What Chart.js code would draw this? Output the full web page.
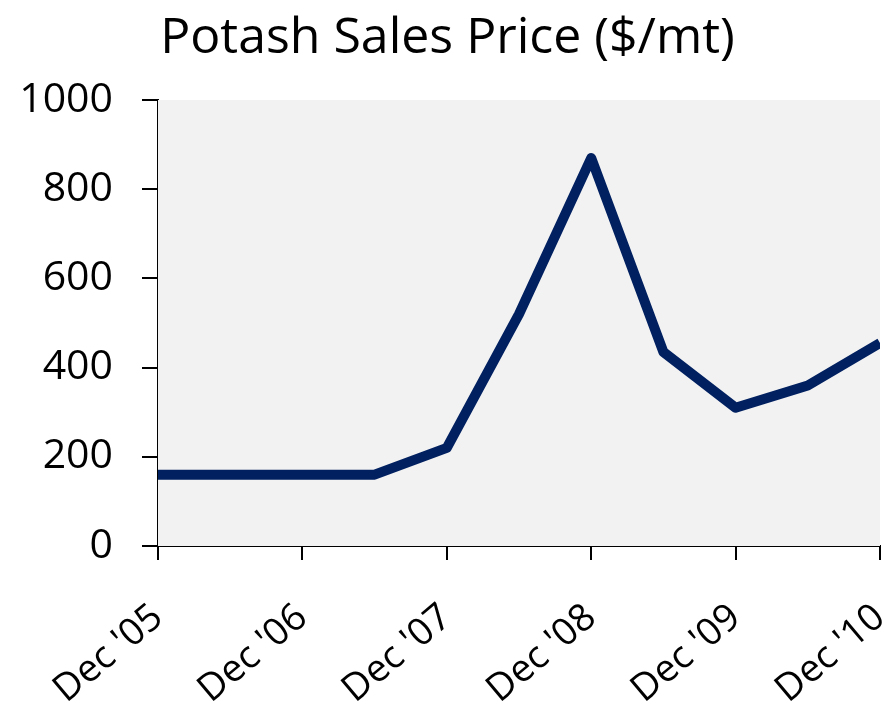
<!DOCTYPE html>
<html>
<head>
<meta charset="utf-8">
<script src="https://cdn.jsdelivr.net/npm/chart.js@4"></script>
<style>
  html, body { margin: 0; padding: 0; background: #fff; }
  #wrap { width: 895px; height: 706px; }
</style>
</head>
<body>
<div id="wrap"><canvas id="potashChart"></canvas></div>
<script>
// Half-year periods, Dec '05 .. Dec '10
const periods = ["Dec '05", "Jun '06", "Dec '06", "Jun '07", "Dec '07", "Jun '08",
                 "Dec '08", "Jun '09", "Dec '09", "Jun '10", "Dec '10"];
const prices  = [160, 160, 160, 160, 220, 520, 870, 435, 310, 360, 455];
const tickLabels = ["Dec '05", "Dec '06", "Dec '07", "Dec '08", "Dec '09", "Dec '10"];

const FONT = '"Open Sans", Lato, sans-serif';

// grey fill behind the plot area only
const plotBg = {
  id: 'plotBg',
  beforeDatasetsDraw(chart) {
    const { ctx, chartArea: a } = chart;
    ctx.save();
    ctx.fillStyle = '#f2f2f2';
    ctx.fillRect(a.left, a.top, a.right - a.left, a.bottom - a.top);
    ctx.restore();
  }
};

new Chart(document.getElementById('potashChart'), {
  type: 'line',
  data: {
    datasets: [{
      data: prices.map((v, i) => ({ x: i, y: v })),
      borderColor: '#002060',
      borderWidth: 10,
      borderJoinStyle: 'round',
      pointRadius: 0,
      tension: 0,
      clip: 0
    }]
  },
  options: {
    responsive: true,
    maintainAspectRatio: false,
    animation: false,
    layout: { padding: { left: 15, right: 15, top: 0, bottom: 0 } },
    plugins: {
      legend: { display: false },
      tooltip: { enabled: false },
      title: {
        display: true,
        text: 'Potash Sales Price ($/mt)',
        color: '#000',
        font: { family: FONT, size: 50, weight: 'normal' },
        padding: { top: 9, bottom: 31 }
      }
    },
    scales: {
      x: {
        type: 'linear',
        min: 0, max: periods.length - 1,
        afterBuildTicks: s => { s.ticks = tickLabels.map((_, i) => ({ value: i * 2 })); },
        ticks: {
          color: '#000',
          font: { family: FONT, size: 38 },
          maxRotation: 40, minRotation: 40,
          padding: 35,
          callback: v => tickLabels[v / 2]
        },
        grid: { drawOnChartArea: false, tickLength: 14, color: '#000', lineWidth: 2 },
        border: { color: '#000', width: 2 },
        afterFit: s => { s.height = 160; s.paddingLeft = 0; s.paddingRight = 0; }
      },
      y: {
        min: 0, max: 1000,
        ticks: {
          stepSize: 200,
          color: '#000',
          font: { family: FONT, size: 41 },
          padding: 29,
          callback: v => String(v)
        },
        grid: { drawOnChartArea: false, tickLength: 16, color: '#000', lineWidth: 2 },
        border: { color: '#000', width: 2 },
        afterFit: s => { s.width = 143; s.paddingTop = 0; s.paddingBottom = 0; }
      }
    }
  },
  plugins: [plotBg]
});
</script>
</body>
</html>
